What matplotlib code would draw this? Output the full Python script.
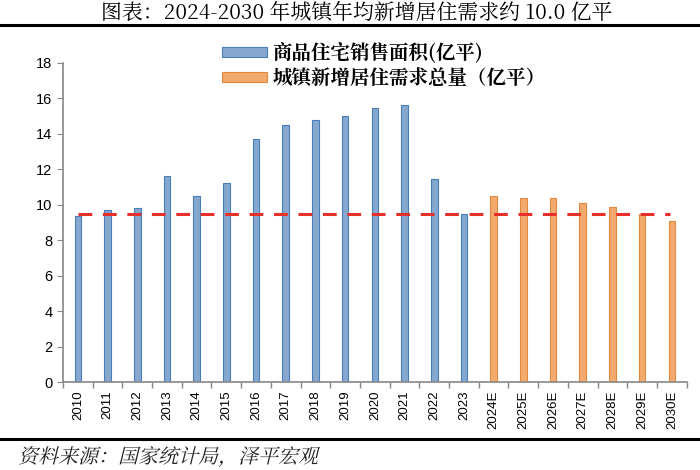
import matplotlib.pyplot as plt
import numpy as np
from matplotlib.font_manager import FontProperties
from matplotlib.lines import Line2D
from matplotlib.patches import PathPatch
from matplotlib.textpath import TextPath
from matplotlib.transforms import Affine2D

plt.rcParams['font.family'] = ['Noto Sans CJK SC', 'DejaVu Sans']
SERIF = ['Noto Serif CJK SC', 'Noto Sans CJK SC', 'DejaVu Sans']
ARIAL = ['Liberation Sans', 'DejaVu Sans']

# data
years = ['2010', '2011', '2012', '2013', '2014', '2015', '2016', '2017', '2018',
         '2019', '2020', '2021', '2022', '2023',
         '2024E', '2025E', '2026E', '2027E', '2028E', '2029E', '2030E']
sales = [9.37, 9.7, 9.84, 11.6, 10.5, 11.24, 13.73, 14.48, 14.79,
         15.0, 15.46, 15.65, 11.43, 9.48]
demand = [10.5, 10.36, 10.36, 10.11, 9.88, 9.5, 9.09]
avg_line = 9.5

BLUE = '#86a8cf'
BLUE_EDGE = '#4a7ebb'
ORANGE = '#f2aa6e'
ORANGE_EDGE = '#e3893d'

W, H = 700, 470
fig = plt.figure(figsize=(W / 100, H / 100), dpi=100)
ax = fig.add_axes([0.09, 0.187, 0.891, 0.679])

x = np.arange(len(years))
n_hist = len(sales)
ax.bar(x[:n_hist], sales, width=0.22, color=BLUE, edgecolor=BLUE_EDGE, linewidth=0.8,
       label='商品住宅销售面积(亿平)')
ax.bar(x[n_hist:], demand, width=0.22, color=ORANGE, edgecolor=ORANGE_EDGE, linewidth=0.8,
       label='城镇新增居住需求总量（亿平）')
ax.hlines(avg_line, 0, len(years) - 1.05, colors='#e8302a', linestyles=(0, (4.5, 3.5)),
          linewidth=2.2, zorder=3)

ax.set_xlim(-0.5, len(years) - 0.5)
ax.set_ylim(0, 18)
ax.set_yticks(range(0, 19, 2))
ax.set_xticks(x)
ax.set_xticklabels(years, rotation=90, fontsize=9.5, family=ARIAL)
ax.set_xticks(np.arange(-0.5, len(years), 1), minor=True)
ax.tick_params(axis='x', which='major', length=0, pad=6)
ax.tick_params(axis='x', which='minor', length=4, color='#888888', width=1)
ax.tick_params(axis='y', length=4, color='#888888', labelsize=10.5)
for lab in ax.get_yticklabels():
    lab.set_family(ARIAL)
for side in ('top', 'right'):
    ax.spines[side].set_visible(False)
for side in ('left', 'bottom'):
    ax.spines[side].set_color('#888888')
    ax.spines[side].set_linewidth(1.2)

fig.legend(loc='upper left', bbox_to_anchor=(0.303, 0.93), frameon=False,
           prop={'size': 14, 'weight': 'bold', 'family': SERIF},
           handlelength=2.3, handleheight=0.4, borderpad=0,
           labelspacing=0.2, handletextpad=0.3)

fig.text(0.51, 0.974, '图表：2024-2030 年城镇年均新增居住需求约 10.0 亿平',
         ha='center', va='center', fontsize=15, family=SERIF)
fig.add_artist(Line2D([0.0, 1.0], [0.946, 0.946], color='black', linewidth=2.2))
fig.add_artist(Line2D([0.0, 1.0], [0.065, 0.065], color='black', linewidth=2.2))

# source note: CJK fonts have no italic, so slant the glyph outlines by hand
note = TextPath((0, 0), '资料来源：国家统计局，泽平宏观', size=20,
                prop=FontProperties(family='Noto Serif CJK SC'))
slant = Affine2D().skew_deg(14, 0).translate(18, 7)
fig.add_artist(PathPatch(note, transform=slant, facecolor='#222222', linewidth=0))

fig.savefig('out.png', dpi=100)
